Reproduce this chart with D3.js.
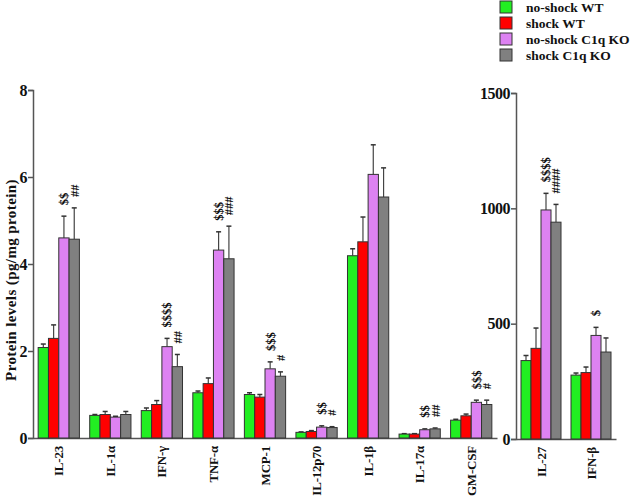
<!DOCTYPE html>
<html>
<head>
<meta charset="utf-8">
<script src="https://cdn.jsdelivr.net/npm/d3@7"></script>
<style>
  body { margin: 0; background: #fff; }
  text { font-family: "Liberation Serif", "Times New Roman", serif; font-weight: bold; fill: #111; }
</style>
</head>
<body>
<div id="chart"></div>
<script>
// categories
const groupsLeft = ["IL-23", "IL-1α", "IFN-γ", "TNF-α", "MCP-1", "IL-12p70", "IL-1β", "IL-17α", "GM-CSF"];
const groupsRight = ["IL-27", "IFN-β"];
const seriesNames = ["no-shock WT", "shock WT", "no-shock C1q KO", "shock C1q KO"];
const seriesColors = ["#22ee22", "#ff0000", "#dd82f2", "#808080"];

// left panel values (pg/mg protein) and SEM
const noShockWT = [2.08, 0.52, 0.63, 1.04, 1.00, 0.13, 4.19, 0.09, 0.41];
const noShockWTErr = [0.08, 0.02, 0.06, 0.04, 0.04, 0.01, 0.16, 0.01, 0.02];
const shockWT = [2.29, 0.54, 0.77, 1.25, 0.94, 0.15, 4.51, 0.09, 0.51];
const shockWTErr = [0.31, 0.07, 0.09, 0.13, 0.06, 0.02, 0.57, 0.01, 0.04];
const noShockKO = [4.60, 0.48, 2.10, 4.32, 1.59, 0.25, 6.06, 0.19, 0.82];
const noShockKOErr = [0.50, 0.02, 0.19, 0.42, 0.16, 0.03, 0.68, 0.02, 0.05];
const shockKO = [4.57, 0.54, 1.64, 4.12, 1.42, 0.24, 5.54, 0.21, 0.77];
const shockKOErr = [0.72, 0.07, 0.28, 0.75, 0.10, 0.02, 0.67, 0.02, 0.10];

// right panel values
const noShockWT2 = [340, 277];
const noShockWT2Err = [22, 9];
const shockWT2 = [393, 288];
const shockWT2Err = [88, 24];
const noShockKO2 = [993, 449];
const noShockKO2Err = [72, 35];
const shockKO2 = [940, 377];
const shockKO2Err = [77, 61];

// significance marks
const markKOLeft = ["$$", "", "$$$$", "$$$", "$$$", "$$", "", "$$", "$$$"];
const markShockKOLeft = ["##", "", "##", "###", "#", "#", "", "##", "#"];
const markKORight = ["$$$$", "$"];
const markShockKORight = ["####", ""];

const ticksLeft = [0, 2, 4, 6, 8];
const ticksRight = [0, 500, 1000, 1500];

const width = 632, height = 498;
const svg = d3.select("#chart").append("svg")
  .attr("width", width)
  .attr("height", height);

const axisColor = "#555";

function panel(groups, vals, errs, marks, yDomain, ticks, xRange, yRange) {
  const x0 = d3.scaleBand().domain(groups).range(xRange).paddingInner(0.2).paddingOuter(0.1);
  const x1 = d3.scaleBand().domain(d3.range(4)).range([0, x0.bandwidth()]);
  const y = d3.scaleLinear().domain(yDomain).range(yRange);

  // y axis
  const gY = svg.append("g")
    .attr("transform", `translate(${xRange[0]},0)`)
    .call(d3.axisLeft(y).tickValues(ticks).tickFormat(d3.format("d")).tickSize(5).tickPadding(1));
  gY.select(".domain").attr("stroke", axisColor).attr("stroke-width", 1.5);
  gY.selectAll(".tick line").attr("stroke", axisColor).attr("stroke-width", 1.5);
  gY.selectAll(".tick text")
    .style("font-family", "Liberation Serif, serif")
    .style("font-weight", "bold")
    .style("font-size", "16px")
    .style("letter-spacing", "-0.5px")
    .attr("fill", "#111");

  // baseline
  const gX = svg.append("g")
    .attr("transform", `translate(0,${yRange[0]})`)
    .call(d3.axisBottom(x0).tickSize(0).tickPadding(0));
  gX.select(".domain").attr("stroke", axisColor).attr("stroke-width", 1.5);
  gX.selectAll(".tick text").remove();

  // category labels
  svg.append("g").selectAll("text")
    .data(groups)
    .join("text")
    .attr("transform", d => `translate(${x0(d) + x0.bandwidth() / 2},${yRange[0] + 8}) rotate(-90)`)
    .attr("text-anchor", "end")
    .attr("dy", "0.35em")
    .style("font-size", "13px")
    .style("letter-spacing", "-0.2px")
    .text(d => d);

  groups.forEach((g, i) => {
    const gg = svg.append("g").attr("transform", `translate(${x0(g)},0)`);
    for (let s = 0; s < 4; s++) {
      const v = vals[s][i], e = errs[s][i];
      const bx = x1(s), bw = x1.bandwidth();
      const cx = bx + bw / 2;
      // error bar
      gg.append("line")
        .attr("x1", cx).attr("x2", cx)
        .attr("y1", y(v)).attr("y2", y(v + e))
        .attr("stroke", "#444").attr("stroke-width", 1.2);
      gg.append("line")
        .attr("x1", cx - 2.5).attr("x2", cx + 2.5)
        .attr("y1", y(v + e)).attr("y2", y(v + e))
        .attr("stroke", "#333").attr("stroke-width", 1.5);
      gg.append("rect")
        .attr("x", bx).attr("width", bw)
        .attr("y", y(v)).attr("height", y(0) - y(v))
        .attr("fill", seriesColors[s])
        .attr("stroke", "#333").attr("stroke-width", 1);
    }
    // significance marks over KO bars
    [[2, marks[0][i]], [3, marks[1][i]]].forEach(([s, m]) => {
      if (!m) return;
      const top = y(vals[s][i] + errs[s][i]);
      gg.append("text")
        .attr("transform", `translate(${x1(s) + x1.bandwidth() / 2},${top - 11}) rotate(-90)`)
        .attr("dy", "0.35em")
        .style("font-size", "12.5px")
        .text(m);
    });
  });
}

panel(groupsLeft,
  [noShockWT, shockWT, noShockKO, shockKO],
  [noShockWTErr, shockWTErr, noShockKOErr, shockKOErr],
  [markKOLeft, markShockKOLeft],
  [0, 8], ticksLeft, [33, 497], [438, 90]);

panel(groupsRight,
  [noShockWT2, shockWT2, noShockKO2, shockKO2],
  [noShockWT2Err, shockWT2Err, noShockKO2Err, shockKO2Err],
  [markKORight, markShockKORight],
  [0, 1500], ticksRight, [516, 616], [439, 93]);

// y title
svg.append("text")
  .attr("transform", "translate(11,280) rotate(-90)")
  .attr("text-anchor", "middle")
  .attr("dy", "0.35em")
  .style("font-size", "15px")
  .style("letter-spacing", "0.4px")
  .text("Protein levels (pg/mg protein)");

// legend
const legend = svg.append("g").attr("transform", "translate(500,0)");
seriesNames.forEach((n, i) => {
  legend.append("rect")
    .attr("x", 0).attr("y", 1 + i * 16)
    .attr("width", 12).attr("height", 12)
    .attr("fill", seriesColors[i])
    .attr("stroke", "#333").attr("stroke-width", 1);
  legend.append("text")
    .attr("x", 26).attr("y", 7 + i * 16)
    .attr("dy", "0.35em")
    .style("font-size", "13.5px")
    .text(n);
});
</script>
</body>
</html>
